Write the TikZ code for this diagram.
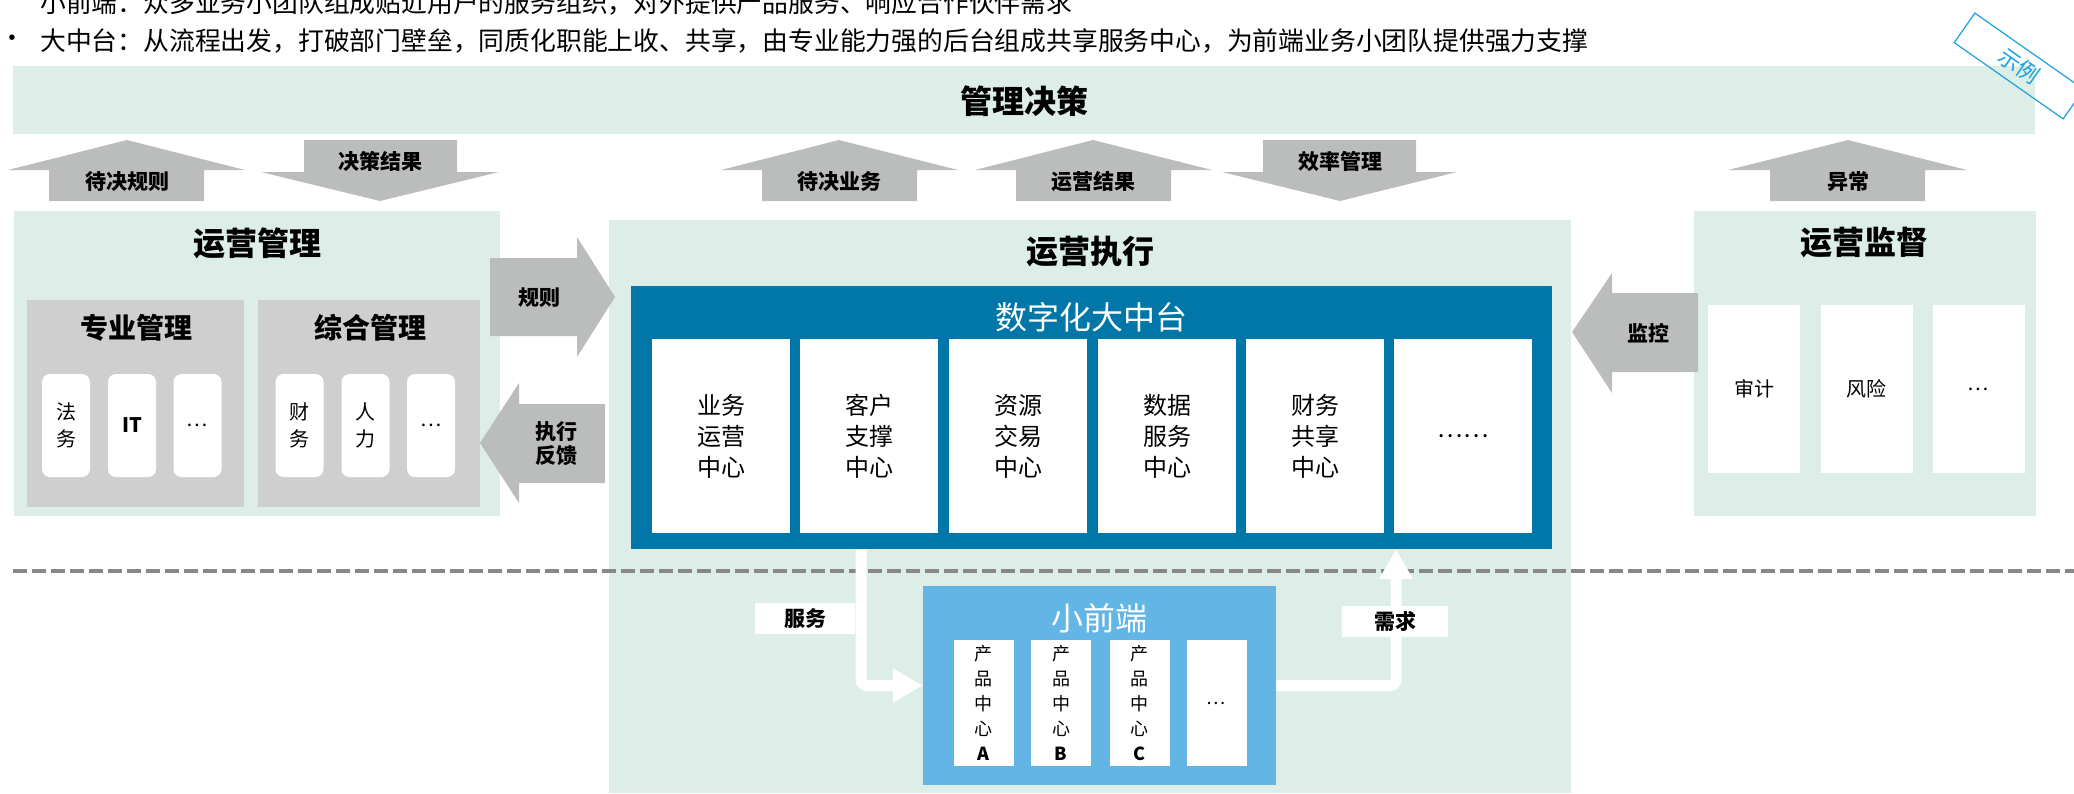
\documentclass[tikz,border=0pt]{standalone}
\usepackage{fontspec}
\setmainfont{Noto Sans CJK SC}
\usetikzlibrary{arrows.meta,positioning}

\definecolor{mint}{RGB}{221,238,232}
\definecolor{arrowgray}{RGB}{187,189,189}
\definecolor{boxgray}{RGB}{207,207,207}
\definecolor{zhongtai}{RGB}{0,119,168}
\definecolor{qianduan}{RGB}{98,181,229}
\definecolor{stampblue}{RGB}{27,161,226}
\definecolor{dashgray}{RGB}{136,136,136}

\tikzset{
	panel/.style={fill=mint},
	garrow/.style={fill=arrowgray},
	note/.style={inner sep=0pt, font=\fontsize{25.8}{30}\selectfont},
	ptitle/.style={inner sep=0pt, font=\fontsize{32}{36}\selectfont\bfseries},
	stitle/.style={inner sep=0pt, font=\fontsize{28}{32}\selectfont\bfseries},
	alabel/.style={inner sep=0pt, align=center, font=\fontsize{21}{24}\selectfont\bfseries},
	wtitle/.style={inner sep=0pt, text=white, font=\fontsize{32}{36}\selectfont},
	ritem/.style={fill=white, rounded corners=8pt, inner sep=0pt, align=center, font=\fontsize{20}{27}\selectfont},
	bitem/.style={fill=white, inner sep=0pt, align=center, minimum width=138pt, minimum height=194pt, font=\fontsize{24}{31}\selectfont},
	jitem/.style={fill=white, inner sep=0pt, minimum width=92pt, minimum height=168pt, font=\fontsize{20}{24}\selectfont},
	pitem/.style={fill=white, inner sep=0pt, align=center, minimum width=60pt, minimum height=126pt, font=\fontsize{18}{25}\selectfont},
	flowline/.style={white, line width=11pt, rounded corners=6pt, -{Triangle[length=30pt,width=32pt]}},
	flowtag/.style={fill=white, inner sep=0pt, minimum width=102pt, minimum height=31pt, font=\fontsize{21}{24}\selectfont\bfseries}
}

\begin{document}
\begin{tikzpicture}[x=1pt,y=1pt]
	\useasboundingbox (0,0) rectangle (2074,-793);
	\clip (0,0) rectangle (2074,-793);
	% intro text
	\node[note, anchor=west] (lineA) at (40,-3) {小前端：众多业务小团队组成贴近用户的服务组织，对外提供产品服务、响应合作伙伴需求};
	\node[note] (dotB) at (12,-41) {•};
	\node[note, anchor=west] (lineB) at (40,-41) {大中台：从流程出发，打破部门壁垒，同质化职能上收、共享，由专业能力强的后台组成共享服务中心，为前端业务小团队提供强力支撑};
	% decision band
	\fill[panel] (13,-66) rectangle (2035,-134);
	\node[ptitle] (juece) at (1024,-101) {管理决策};
	% panels
	\fill[panel] (14,-211) rectangle (500,-516);
	\node[ptitle] (guanli) at (257,-243) {运营管理};
	\fill[panel] (609,-220) rectangle (1571,-793);
	\node[ptitle] (zhixing) at (1090,-252) {运营执行};
	\fill[panel] (1694,-211) rectangle (2036,-516);
	\node[ptitle] (jiandu) at (1864,-243) {运营监督};
	% arrows between the layers
	\fill[garrow] (127,-140) -- (245,-170) -- (204,-170) -- (204,-201) -- (49,-201) -- (49,-170) -- (8,-170) -- cycle;
	\node[alabel] (djgz) at (127,-182) {待决规则};
	\fill[garrow] (304,-140) -- (457,-140) -- (457,-172) -- (499,-172) -- (380,-201) -- (261,-172) -- (304,-172) -- cycle;
	\node[alabel] (jcjg) at (380,-161) {决策结果};
	\fill[garrow] (839,-140) -- (958,-170) -- (917,-170) -- (917,-201) -- (762,-201) -- (762,-170) -- (721,-170) -- cycle;
	\node[alabel] (djyw) at (839,-182) {待决业务};
	\fill[garrow] (1093,-140) -- (1212,-170) -- (1171,-170) -- (1171,-201) -- (1016,-201) -- (1016,-170) -- (975,-170) -- cycle;
	\node[alabel] (yyjg) at (1093,-182) {运营结果};
	\fill[garrow] (1263,-140) -- (1416,-140) -- (1416,-172) -- (1457,-172) -- (1340,-201) -- (1222,-172) -- (1263,-172) -- cycle;
	\node[alabel] (xlgl) at (1340,-161) {效率管理};
	\fill[garrow] (1848,-140) -- (1967,-170) -- (1925,-170) -- (1925,-201) -- (1770,-201) -- (1770,-170) -- (1728,-170) -- cycle;
	\node[alabel] (yichang) at (1848,-182) {异常};
	\fill[garrow] (490,-258) -- (577,-258) -- (577,-237) -- (615,-297) -- (577,-357) -- (577,-336) -- (490,-336) -- cycle;
	\node[alabel] (guize) at (539,-298) {规则};
	\fill[garrow] (480,-443) -- (519,-383) -- (519,-404) -- (605,-404) -- (605,-483) -- (519,-483) -- (519,-503) -- cycle;
	\node[alabel] (fankui) at (556,-444) {执行\\反馈};
	\fill[garrow] (1572,-332) -- (1612,-273) -- (1612,-293) -- (1698,-293) -- (1698,-372) -- (1612,-372) -- (1612,-393) -- cycle;
	\node[alabel] (jiankong) at (1648,-333) {监控};
	% operation management
	\fill[boxgray] (27,-300) rectangle (244,-507);
	\node[stitle] (zygl) at (136,-328) {专业管理};
	\node[ritem, minimum width=48pt, minimum height=103pt] (fawu) at (66,-425.5) {法\\务};
	\node[ritem, minimum width=48pt, minimum height=103pt] (it) at (132,-425.5) {\textbf{IT}};
	\node[ritem, minimum width=48pt, minimum height=103pt] (zyqt) at (197.5,-425.5) {…};
	\fill[boxgray] (258,-300) rectangle (480,-507);
	\node[stitle] (zhgl) at (370,-328) {综合管理};
	\node[ritem, minimum width=48pt, minimum height=103pt] (caiwu) at (299.5,-425.5) {财\\务};
	\node[ritem, minimum width=48pt, minimum height=103pt] (renli) at (365.5,-425.5) {人\\力};
	\node[ritem, minimum width=48pt, minimum height=103pt] (zhqt) at (431,-425.5) {…};
	% digital middle platform
	\node[fill=zhongtai, minimum width=921pt, minimum height=263pt] (dzt) at (1091.5,-417.5) {};
	\node[wtitle] (dzttitle) at (1091,-317) {数字化大中台};
	\node[bitem] (ywyy) at (721,-436) {业务\\运营\\中心};
	\node[bitem] (khzc) at (869,-436) {客户\\支撑\\中心};
	\node[bitem] (zyjy) at (1018,-436) {资源\\交易\\中心};
	\node[bitem] (sjfw) at (1167,-436) {数据\\服务\\中心};
	\node[bitem] (cwgx) at (1315,-436) {财务\\共享\\中心};
	\node[bitem] (dztqt) at (1463,-436) {……};
	% supervision
	\node[jitem] (shenji) at (1754,-389) {审计};
	\node[jitem] (fengxian) at (1866.5,-389) {风险};
	\node[jitem] (jdqt) at (1978.5,-389) {…};
	% divider
	\draw[dashgray, line width=3.5pt, dash pattern=on 14pt off 5pt] (13,-571) -- (2074,-571);
	% small front end
	\node[fill=qianduan, minimum width=353pt, minimum height=199pt] (xqd) at (1099.5,-685.5) {};
	\node[wtitle] (xqdtitle) at (1099,-618) {小前端};
	\node[pitem] (cpa) at (983.5,-703) {产\\品\\中\\心\\\textbf{A}};
	\node[pitem] (cpb) at (1061,-703) {产\\品\\中\\心\\\textbf{B}};
	\node[pitem] (cpc) at (1139.5,-703) {产\\品\\中\\心\\\textbf{C}};
	\node[pitem] (cpqt) at (1216.5,-703) {…};
	% service and demand
	\coordinate (fuwu) at (861,0);
	\coordinate (xuqiu) at (1396,0);
	\draw[flowline] (dzt.south -| fuwu) |- (xqd.west);
	\draw[flowline] (xqd.east) -| (dzt.south -| xuqiu);
	\node[flowtag, minimum width=100pt] (fuwutag) at (805,-618.5) {服务};
	\node[flowtag, minimum width=106pt] (xuqiutag) at (1395,-621.5) {需求};
	% stamp
	\node[draw=stampblue, line width=1.2pt, text=stampblue, rotate=-35, minimum width=133pt, minimum height=36pt, inner sep=0pt, font=\fontsize{22}{24}\selectfont] (shili) at (2019,-66) {示例};
\end{tikzpicture}
\end{document}
